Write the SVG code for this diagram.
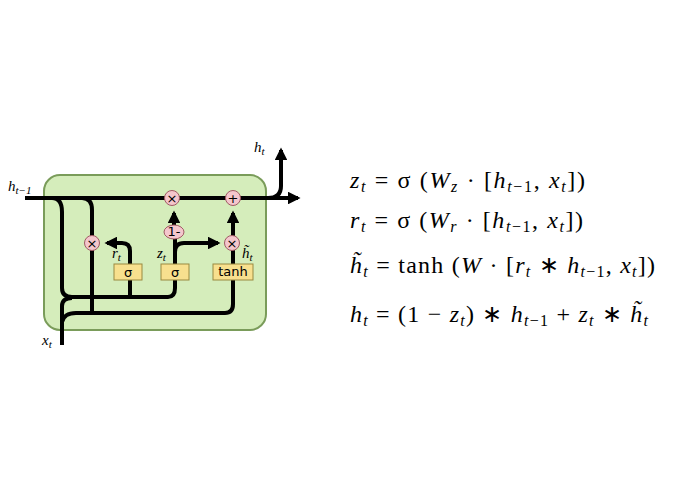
<svg xmlns="http://www.w3.org/2000/svg" width="695" height="494" viewBox="0 0 695 494">
<style>
.w{fill:none;stroke:#000;stroke-width:4}
.c{fill:#f4c6cc;stroke:#a05a64;stroke-width:1}
.b{fill:#f8e08e;stroke:#9a8a40;stroke-width:1}
.op{font-family:"DejaVu Sans",sans-serif;font-size:13px;text-anchor:middle}
.m{font-family:"Liberation Serif",serif;font-size:15px;font-style:italic}
.e{font-family:"Liberation Serif",serif;font-size:24px}
.i{font-style:italic}
</style>
<defs><marker id="a" viewBox="0 0 10 10" refX="8" refY="5" markerWidth="3.2" markerHeight="3.2" orient="auto"><path d="M0,0L10,5L0,10z"/></marker></defs>
<rect id="cell" x="44" y="175" width="222" height="155" rx="16" fill="#d5edbb" stroke="#7a9c5a" stroke-width="2"/>
<g id="connectors">
<path class="w" d="M25,198H298" marker-end="url(#a)"/>
<path class="w" d="M268,198Q281,198 281,186V150" marker-end="url(#a)"/>
<path class="w" d="M52,198Q62,198 62,212V288Q62,297 72,297H168Q175,297 175,288V280"/>
<path class="w" d="M130,297V280"/>
<path class="w" d="M82,198Q92,198 92,210V236"/>
<path class="w" d="M92,250V313"/>
<path class="w" d="M62,345V306Q62,298 72,298"/>
<path class="w" d="M62,322Q64,313 76,313H225Q233,313 233,304V280"/>
<path class="w" d="M130,264V251Q130,243 122,243H107" marker-end="url(#a)"/>
<path class="w" d="M175,264V239"/>
<path class="w" d="M175,252Q175,243 184,243H218" marker-end="url(#a)"/>
<path class="w" d="M174,225V213" marker-end="url(#a)"/>
<path class="w" d="M233,264V250"/>
<path class="w" d="M233,236V213" marker-end="url(#a)"/>
</g>
<g id="mul1"><circle class="c" cx="172" cy="198" r="7.5"/><text class="op" x="172" y="203">×</text></g>
<g id="add"><circle class="c" cx="233" cy="198" r="7.5"/><text class="op" x="233" y="203">+</text></g>
<g id="mul2"><circle class="c" cx="92" cy="243" r="7.5"/><text class="op" x="92" y="248">×</text></g>
<g id="mul3"><circle class="c" cx="232" cy="243" r="7.5"/><text class="op" x="232" y="248">×</text></g>
<g id="one"><ellipse class="c" cx="174" cy="232" rx="10" ry="7"/><text class="op" x="174" y="236" font-size="11">1-</text></g>
<g id="sig1"><rect class="b" x="114" y="264" width="28" height="16"/><text class="op" x="128" y="277" font-size="14">σ</text></g>
<g id="sig2"><rect class="b" x="161" y="264" width="28" height="16"/><text class="op" x="175" y="277" font-size="14">σ</text></g>
<g id="tanh"><rect class="b" x="213" y="264" width="40" height="16"/><text class="op" x="233" y="276" font-size="11">tanh</text></g>
<g id="labels">
<text class="m" x="8" y="191">h<tspan font-size="11" dy="3">t−1</tspan></text>
<text class="m" x="254" y="152">h<tspan font-size="11" dy="3">t</tspan></text>
<text class="m" x="42" y="345">x<tspan font-size="11" dy="3">t</tspan></text>
<text class="m" x="112" y="258">r<tspan font-size="11" dy="3">t</tspan></text>
<text class="m" x="157" y="258">z<tspan font-size="11" dy="3">t</tspan></text>
<text class="m" x="242" y="258">h̃<tspan font-size="11" dy="3">t</tspan></text>
</g>
<g id="equations" class="e">
<text x="350" y="188" textLength="235" lengthAdjust="spacing"><tspan class="i">z</tspan><tspan font-size="16" dy="4" class="i">t</tspan><tspan dy="-4"> = σ (</tspan><tspan class="i">W</tspan><tspan font-size="16" dy="4" class="i">z</tspan><tspan dy="-4"> · [</tspan><tspan class="i">h</tspan><tspan font-size="16" dy="4"><tspan class="i">t</tspan>−1</tspan><tspan dy="-4">, </tspan><tspan class="i">x</tspan><tspan font-size="16" dy="4" class="i">t</tspan><tspan dy="-4">])</tspan></text>
<text x="350" y="228" textLength="233" lengthAdjust="spacing"><tspan class="i">r</tspan><tspan font-size="16" dy="4" class="i">t</tspan><tspan dy="-4"> = σ (</tspan><tspan class="i">W</tspan><tspan font-size="16" dy="4" class="i">r</tspan><tspan dy="-4"> · [</tspan><tspan class="i">h</tspan><tspan font-size="16" dy="4"><tspan class="i">t</tspan>−1</tspan><tspan dy="-4">, </tspan><tspan class="i">x</tspan><tspan font-size="16" dy="4" class="i">t</tspan><tspan dy="-4">])</tspan></text>
<text x="350" y="273" textLength="305" lengthAdjust="spacing"><tspan class="i">h̃</tspan><tspan font-size="16" dy="4" class="i">t</tspan><tspan dy="-4"> = tanh (</tspan><tspan class="i">W</tspan><tspan> · [</tspan><tspan class="i">r</tspan><tspan font-size="16" dy="4" class="i">t</tspan><tspan dy="-4"> ∗ </tspan><tspan class="i">h</tspan><tspan font-size="16" dy="4"><tspan class="i">t</tspan>−1</tspan><tspan dy="-4">, </tspan><tspan class="i">x</tspan><tspan font-size="16" dy="4" class="i">t</tspan><tspan dy="-4">])</tspan></text>
<text x="350" y="322" textLength="298" lengthAdjust="spacing"><tspan class="i">h</tspan><tspan font-size="16" dy="4" class="i">t</tspan><tspan dy="-4"> = (1 − </tspan><tspan class="i">z</tspan><tspan font-size="16" dy="4" class="i">t</tspan><tspan dy="-4">) ∗ </tspan><tspan class="i">h</tspan><tspan font-size="16" dy="4"><tspan class="i">t</tspan>−1</tspan><tspan dy="-4"> + </tspan><tspan class="i">z</tspan><tspan font-size="16" dy="4" class="i">t</tspan><tspan dy="-4"> ∗ </tspan><tspan class="i">h̃</tspan><tspan font-size="16" dy="4" class="i">t</tspan></text>
</g>
</svg>
